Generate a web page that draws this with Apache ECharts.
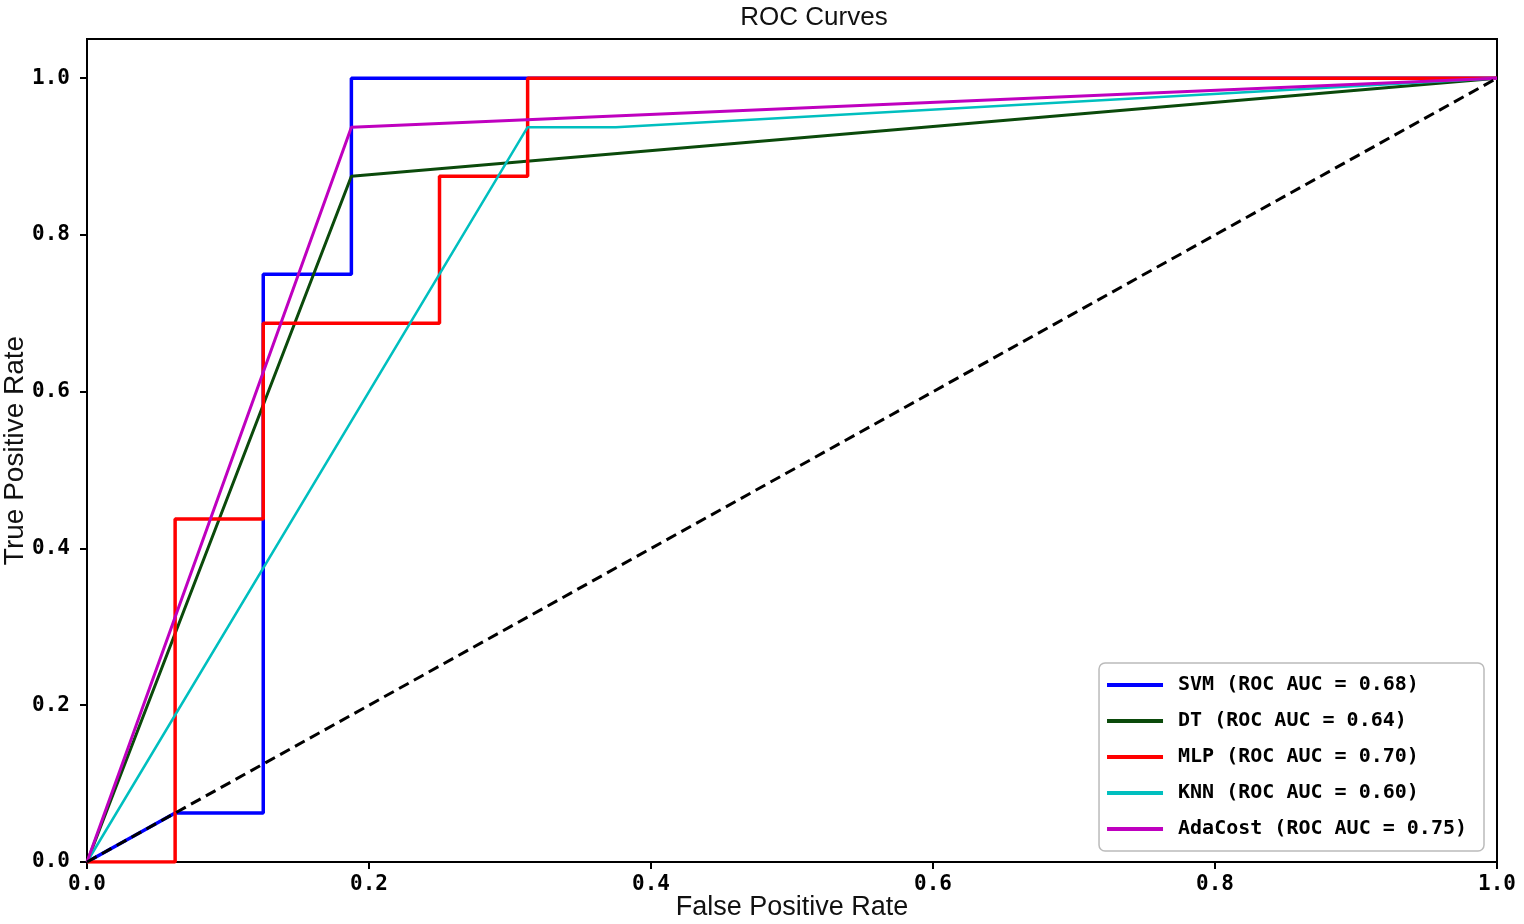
<!DOCTYPE html>
<html>
<head>
<meta charset="utf-8">
<title>ROC Curves</title>
<script src="https://cdn.jsdelivr.net/npm/echarts@6/dist/echarts.min.js"></script>
<style>
  html, body { margin: 0; padding: 0; background: #fff; }
  #rocChart { width: 1524px; height: 924px; }
</style>
</head>
<body>
<div id="rocChart"></div>
<script>
// 数据：每个模型的 FPR / TPR 点
var modelNames = ['SVM', 'DT', 'MLP', 'KNN', 'AdaCost'];
var aucValues = ['0.68', '0.64', '0.70', '0.60', '0.75'];
var modelColors = ['#0000ff', '#0b4a0b', '#ff0000', '#00bfbf', '#bf00bf'];

var svmFpr = [0, 0.0625, 0.125, 0.125, 0.1875, 0.1875, 1];
var svmTpr = [0, 0.0625, 0.0625, 0.75, 0.75, 1, 1];

var dtFpr = [0, 0.1875, 1];
var dtTpr = [0, 0.875, 1];

var mlpFpr = [0, 0.0625, 0.0625, 0.125, 0.125, 0.25, 0.25, 0.3125, 0.3125, 1];
var mlpTpr = [0, 0, 0.4375, 0.4375, 0.6875, 0.6875, 0.875, 0.875, 1, 1];

var knnFpr = [0, 0.3125, 0.375, 1];
var knnTpr = [0, 0.9375, 0.9375, 1];

var adaFpr = [0, 0.1875, 1];
var adaTpr = [0, 0.9375, 1];

var chanceFpr = [0, 1];
var chanceTpr = [0, 1];

var yTickValues = [0, 0.2, 0.4, 0.6, 0.8, 1.0];
var xTickValues = [0, 0.2, 0.4, 0.6, 0.8, 1.0];

function zipPoints(xs, ys) {
    var out = [];
    for (var i = 0; i < xs.length; i++) {
        out.push([xs[i], ys[i]]);
    }
    return out;
}

var curveData = [
    zipPoints(svmFpr, svmTpr),
    zipPoints(dtFpr, dtTpr),
    zipPoints(mlpFpr, mlpTpr),
    zipPoints(knnFpr, knnTpr),
    zipPoints(adaFpr, adaTpr)
];
var lineWidths = [3.5, 3, 3.5, 2.5, 3];

var tickFont = { fontFamily: 'DejaVu Sans Mono', fontSize: 21, fontWeight: 'bold', color: '#000' };

var series = [];
for (var i = 0; i < modelNames.length; i++) {
    series.push({
        name: modelNames[i] + ' (ROC AUC = ' + aucValues[i] + ')',
        type: 'line',
        data: curveData[i],
        symbol: 'none',
        color: modelColors[i],
        lineStyle: { width: lineWidths[i], color: modelColors[i] },
        animation: false
    });
}
// 对角虚线
series.push({
    name: 'chance',
    type: 'line',
    data: zipPoints(chanceFpr, chanceTpr),
    symbol: 'none',
    lineStyle: { width: 3, color: '#000', type: [11, 6] },
    animation: false
});

var rocChart = echarts.init(document.getElementById('rocChart'));

var rocOption = {
    backgroundColor: '#fff',
    title: {
        text: 'ROC Curves',
        left: 809,
        top: 0,
        textAlign: 'center',
        textStyle: { fontFamily: 'Liberation Sans', fontSize: 26, fontWeight: 'normal', color: '#111' }
    },
    legend: {
        data: series.slice(0, 5).map(function (s) { return s.name; }),
        orient: 'vertical',
        right: 40,
        bottom: 73,
        icon: 'rect',
        itemWidth: 56,
        itemHeight: 4,
        itemGap: 16,
        padding: [12, 17, 12, 8],
        backgroundColor: '#fff',
        borderColor: '#bbb',
        borderWidth: 1.5,
        borderRadius: 6,
        textStyle: {
            fontFamily: 'DejaVu Sans Mono',
            fontSize: 20,
            fontWeight: 'bold',
            color: '#000',
            lineHeight: 20,
            padding: [0, 0, 0, 10]
        }
    },
    grid: {
        left: 87,
        right: 27,
        top: 39,
        bottom: 62,
        outerBoundsMode: 'none',
        containLabel: false,
        show: true,
        borderColor: '#000',
        borderWidth: 2,
        backgroundColor: '#fff'
    },
    xAxis: {
        type: 'value',
        min: 0,
        max: 1,
        interval: 0.2,
        name: 'False Positive Rate',
        nameLocation: 'middle',
        nameGap: 32,
        nameMoveOverlap: false,
        nameTextStyle: { fontFamily: 'Liberation Sans', fontSize: 27, color: '#111' },
        axisLine: { show: true, lineStyle: { color: '#000', width: 2 } },
        axisTick: { show: true, length: 7, lineStyle: { color: '#000', width: 2 }, customValues: xTickValues },
        axisLabel: Object.assign({ margin: 12, customValues: xTickValues,
            formatter: function (v) { return v.toFixed(1); } }, tickFont),
        splitLine: { show: false }
    },
    yAxis: {
        type: 'value',
        min: 0,
        max: 1.05,
        name: 'True Positive Rate',
        nameLocation: 'middle',
        nameGap: 58,
        nameMoveOverlap: false,
        nameTextStyle: { fontFamily: 'Liberation Sans', fontSize: 28, color: '#111' },
        axisLine: { show: true, lineStyle: { color: '#000', width: 2 } },
        axisTick: { show: true, length: 7, lineStyle: { color: '#000', width: 2 }, customValues: yTickValues },
        axisLabel: Object.assign({ margin: 17, customValues: yTickValues,
            formatter: function (v) { return v.toFixed(1); } }, tickFont),
        splitLine: { show: false }
    },
    series: series
};

rocChart.setOption(rocOption);
</script>
</body>
</html>
